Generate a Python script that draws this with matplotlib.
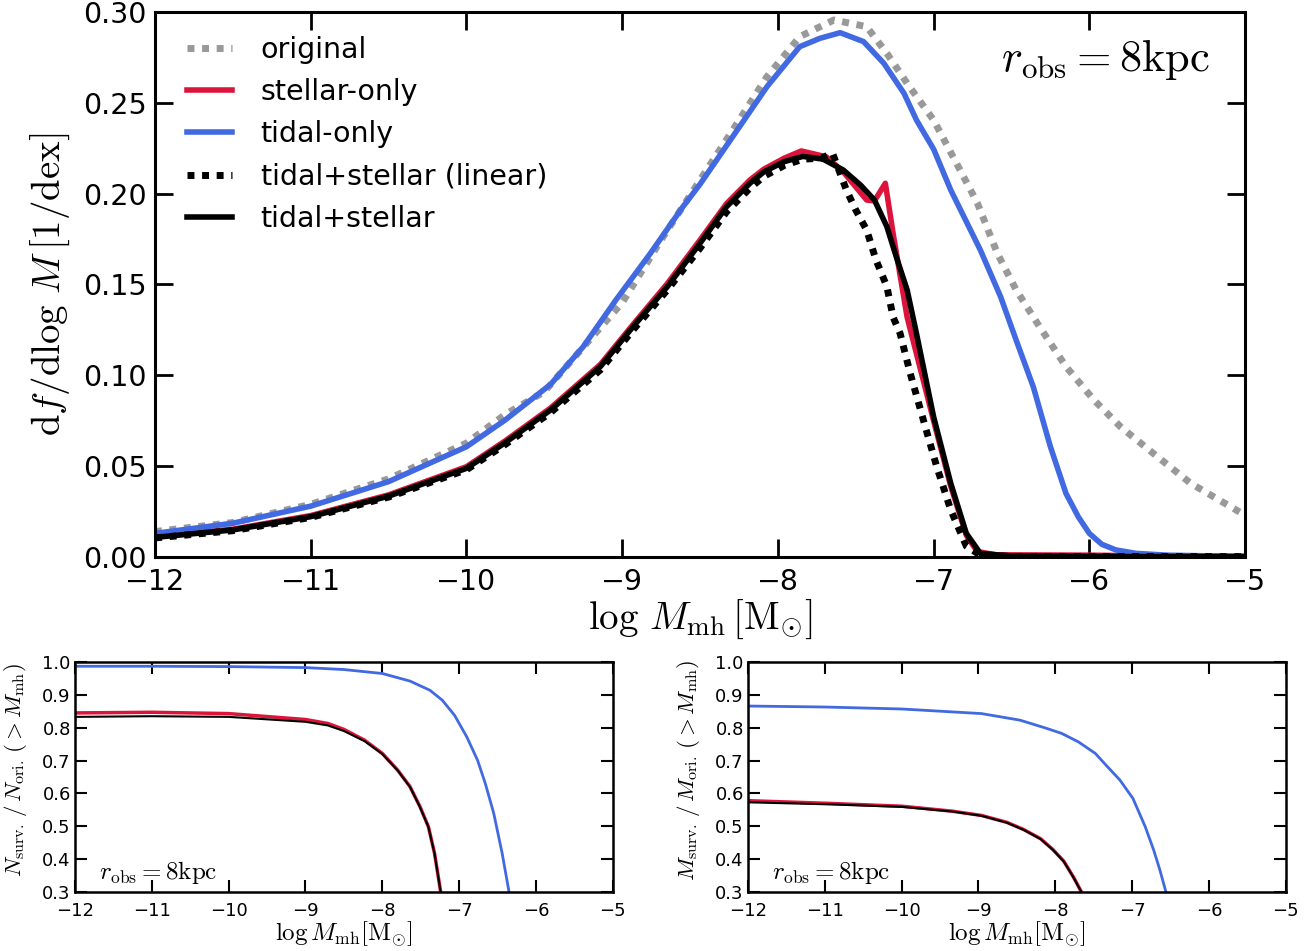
import numpy as np
from matplotlib import pyplot as plt

plt.rcParams['mathtext.fontset'] = 'cm'
plt.rcParams['xtick.direction'] = 'in'
plt.rcParams['ytick.direction'] = 'in'

# mass function
orig_x = [-12, -11.5, -11, -10.5, -10, -9.75, -9.5, -9, -8.75, -8.5, -8.29, -8.07, -7.86, -7.64, -7.43, -7.30,
          -7.17, -7.0, -6.83, -6.72, -6.59, -6.47, -6.32, -6.15, -5.97, -5.80, -5.59, -5.35, -5.0]
orig_y = [0.014, 0.019, 0.029, 0.043, 0.0627, 0.0785, 0.091, 0.14, 0.1745, 0.2075, 0.235, 0.2644, 0.2864, 0.2956,
          0.2919, 0.2772, 0.2607, 0.2405, 0.213, 0.195, 0.167, 0.147, 0.1268, 0.1048, 0.0864, 0.0717, 0.0571,
          0.0406, 0.023]

tidal_x = [-12, -11.5, -11, -10.5, -10, -9.75, -9.46, -9.25, -9.04, -8.82, -8.61, -8.5, -8.29, -8.07, -7.86,
           -7.73, -7.60, -7.45, -7.32, -7.19, -7.11, -7.0, -6.89, -6.70, -6.57, -6.47, -6.36, -6.25, -6.15,
           -6.07, -6.0, -5.92, -5.83, -5.7, -5.5, -5.0]
tidal_y = [0.013, 0.0186, 0.028, 0.0415, 0.0607, 0.0755, 0.095, 0.1158, 0.1415, 0.167, 0.1928, 0.2052, 0.2314,
           0.2589, 0.2809, 0.2855, 0.2886, 0.2837, 0.2718, 0.2552, 0.2405, 0.2245, 0.202, 0.169, 0.1433, 0.1194,
           0.0937, 0.0607, 0.035, 0.022, 0.013, 0.007, 0.0039, 0.002, 0.001, 0.0003]

stellar_x = [-12, -11.5, -11, -10.5, -10, -9.75, -9.46, -9.14, -8.93, -8.71, -8.5, -8.33, -8.18, -8.09, -7.96,
             -7.85, -7.69, -7.58, -7.43, -7.38, -7.31, -7.26, -7.17, -7.0, -6.89, -6.79, -6.72, -6.6, -6.0,
             -5.5, -5.0]
stellar_y = [0.0112, 0.0153, 0.0228, 0.0342, 0.0497, 0.064, 0.082, 0.106, 0.128, 0.1505, 0.1745, 0.1945, 0.2075,
             0.2135, 0.2195, 0.2235, 0.2203, 0.212, 0.1965, 0.196, 0.2057, 0.178, 0.132, 0.075, 0.039, 0.012,
             0.003, 0.0012, 0.001, 0.0005, 0.0003]

lin_x = [-12, -11.5, -11, -10.5, -10, -9.75, -9.46, -9.14, -8.93, -8.71, -8.5, -8.33, -8.18, -8.09, -7.96,
         -7.84, -7.72, -7.65, -7.56, -7.50, -7.43, -7.37, -7.30, -7.26, -7.215, -7.15, -7.06, -6.98, -6.89,
         -6.79, -6.70, -6.5, -5.0]
lin_y = [0.0105, 0.0145, 0.0218, 0.0330, 0.048, 0.062, 0.0795, 0.103, 0.125, 0.147, 0.170, 0.190, 0.203,
         0.2095, 0.2155, 0.219, 0.2195, 0.2224, 0.202, 0.191, 0.18, 0.1635, 0.1488, 0.132, 0.123, 0.101,
         0.0737, 0.0497, 0.0259, 0.006, 0.001, 0.0003, 0.0002]

both_x = [-12, -11.5, -11, -10.5, -10, -9.75, -9.46, -9.14, -8.93, -8.71, -8.5, -8.33, -8.18, -8.09, -7.96,
          -7.84, -7.71, -7.58, -7.47, -7.38, -7.30, -7.24, -7.17, -7.11, -7.0, -6.89, -6.79, -6.70, -6.5,
          -6.0, -5.0]
both_y = [0.0108, 0.0149, 0.0222, 0.0335, 0.0488, 0.063, 0.0809, 0.1048, 0.1268, 0.1488, 0.1727, 0.1928,
          0.2057, 0.212, 0.2176, 0.2205, 0.219, 0.213, 0.2048, 0.1965, 0.1818, 0.1653, 0.147, 0.123, 0.0772,
          0.0406, 0.013, 0.002, 0.0005, 0.0003, 0.0002]

# cumulative surviving fractions (bottom panels)
nt_x = [-12, -11, -10, -9, -8.5, -8, -7.64, -7.38, -7.22, -7.06, -6.90, -6.76, -6.66, -6.55, -6.44, -6.35]
nt_y = [0.987, 0.987, 0.986, 0.983, 0.977, 0.965, 0.942, 0.914, 0.884, 0.838, 0.772, 0.701, 0.631, 0.540,
        0.418, 0.30]
ns_x = [-12, -11, -10, -9, -8.71, -8.5, -8.23, -8, -7.80, -7.64, -7.51, -7.40, -7.32, -7.24]
ns_y = [0.845, 0.847, 0.843, 0.825, 0.813, 0.795, 0.762, 0.722, 0.671, 0.621, 0.56, 0.499, 0.418, 0.30]
nb_x = [-12, -11, -10, -9, -8.71, -8.5, -8.23, -8, -7.80, -7.64, -7.51, -7.40, -7.32, -7.24]
nb_y = [0.833, 0.835, 0.833, 0.818, 0.807, 0.790, 0.759, 0.720, 0.670, 0.620, 0.559, 0.498, 0.417, 0.30]

mt_x = [-12, -11, -10, -8.96, -8.46, -8.14, -7.92, -7.70, -7.48, -7.32, -7.16, -6.99, -6.83, -6.72, -6.64,
        -6.56]
mt_y = [0.866, 0.863, 0.857, 0.843, 0.823, 0.80, 0.783, 0.757, 0.722, 0.681, 0.641, 0.585, 0.499, 0.428,
        0.368, 0.30]
ms_x = [-12, -10.97, -9.99, -9.34, -8.96, -8.63, -8.41, -8.19, -8.03, -7.89, -7.76, -7.66]
ms_y = [0.578, 0.570, 0.561, 0.546, 0.533, 0.512, 0.490, 0.462, 0.429, 0.394, 0.344, 0.30]
mb_x = [-12, -10.97, -9.99, -9.34, -8.96, -8.63, -8.41, -8.19, -8.03, -7.89, -7.76, -7.66]
mb_y = [0.573, 0.567, 0.559, 0.545, 0.532, 0.511, 0.489, 0.461, 0.428, 0.393, 0.343, 0.30]

red = '#DC143C'
blue = '#4169E1'
grey = '0.6'

fig = plt.figure(figsize=(13.15, 9.51), dpi=100)
ax = fig.add_axes([0.1179, 0.4143, 0.8289, 0.5731])

ax.plot(orig_x, orig_y, color=grey, lw=5, dashes=(1, 1.1), label='original')
ax.plot(stellar_x, stellar_y, color=red, lw=4, label='stellar-only')
ax.plot(tidal_x, tidal_y, color=blue, lw=4, label='tidal-only')
ax.plot(lin_x, lin_y, color='k', lw=5, dashes=(1, 1.1), label='tidal+stellar (linear)')
ax.plot(both_x, both_y, color='k', lw=4, label='tidal+stellar')

ax.set_xlim(-12, -5)
ax.set_ylim(0, 0.30)
ax.set_yticks(np.arange(0, 0.31, 0.05))
ax.set_yticklabels(['%.2f' % v for v in np.arange(0, 0.31, 0.05)])
ax.tick_params(axis='both', which='major', labelsize=20.5, length=13, width=2, top=True, right=True, pad=6)
ax.tick_params(axis='x', pad=8)
for s in ax.spines.values():
    s.set_linewidth(2.2)
ax.set_xlabel(r'$\log\,M_{\rm mh}\,[{\rm M}_{\odot}]$', fontsize=28, labelpad=1)
ax.set_ylabel(r'${\rm d}f/{\rm d}\log\,M\,[1/{\rm dex}]$', fontsize=28, labelpad=8)
ax.text(0.968, 0.955, r'$r_{\rm obs}=8{\rm kpc}$', transform=ax.transAxes, ha='right', va='top', fontsize=32)
ax.legend(loc='upper left', bbox_to_anchor=(0.019, 0.977), borderaxespad=0, frameon=False, fontsize=20.5,
          handlelength=1.58, handletextpad=1.0, labelspacing=0.5)

bottom_axes = [
    (0.0570, nt_x, nt_y, ns_x, ns_y, nb_x, nb_y, r'$N_{\rm surv.}\,/\,N_{\rm ori.}\,(>M_{\rm mh})$'),
    (0.5688, mt_x, mt_y, ms_x, ms_y, mb_x, mb_y, r'$M_{\rm surv.}\,/\,M_{\rm ori.}\,(>M_{\rm mh})$'),
]
for left, tx, ty, sx, sy, bx, by, ylab in bottom_axes:
    bax = fig.add_axes([left, 0.062, 0.409, 0.2419])
    bax.plot(tx, ty, color=blue, lw=2)
    bax.plot(sx, sy, color=red, lw=2.5)
    bax.plot(bx, by, color='k', lw=1.5)
    bax.set_xlim(-12, -5)
    bax.set_ylim(0.3, 1.0)
    bax.set_yticks(np.arange(0.3, 1.01, 0.1))
    bax.set_yticklabels(['%.1f' % v for v in np.arange(0.3, 1.01, 0.1)])
    bax.tick_params(axis='both', labelsize=13, length=8.5, width=1.5, top=True, right=True, pad=3)
    bax.tick_params(axis='x', pad=7)
    for s in bax.spines.values():
        s.set_linewidth(1.8)
    bax.set_xlabel(r'$\log M_{\rm mh}[{\rm M}_{\odot}]$', fontsize=18, labelpad=0)
    bax.set_ylabel(ylab, fontsize=16.5)
    bax.yaxis.set_label_coords(-0.085, 0.53)
    bax.text(0.045, 0.025, r'$r_{\rm obs}=8{\rm kpc}$', transform=bax.transAxes, ha='left', va='bottom', fontsize=18)

fig.savefig('out.png', dpi=100)
